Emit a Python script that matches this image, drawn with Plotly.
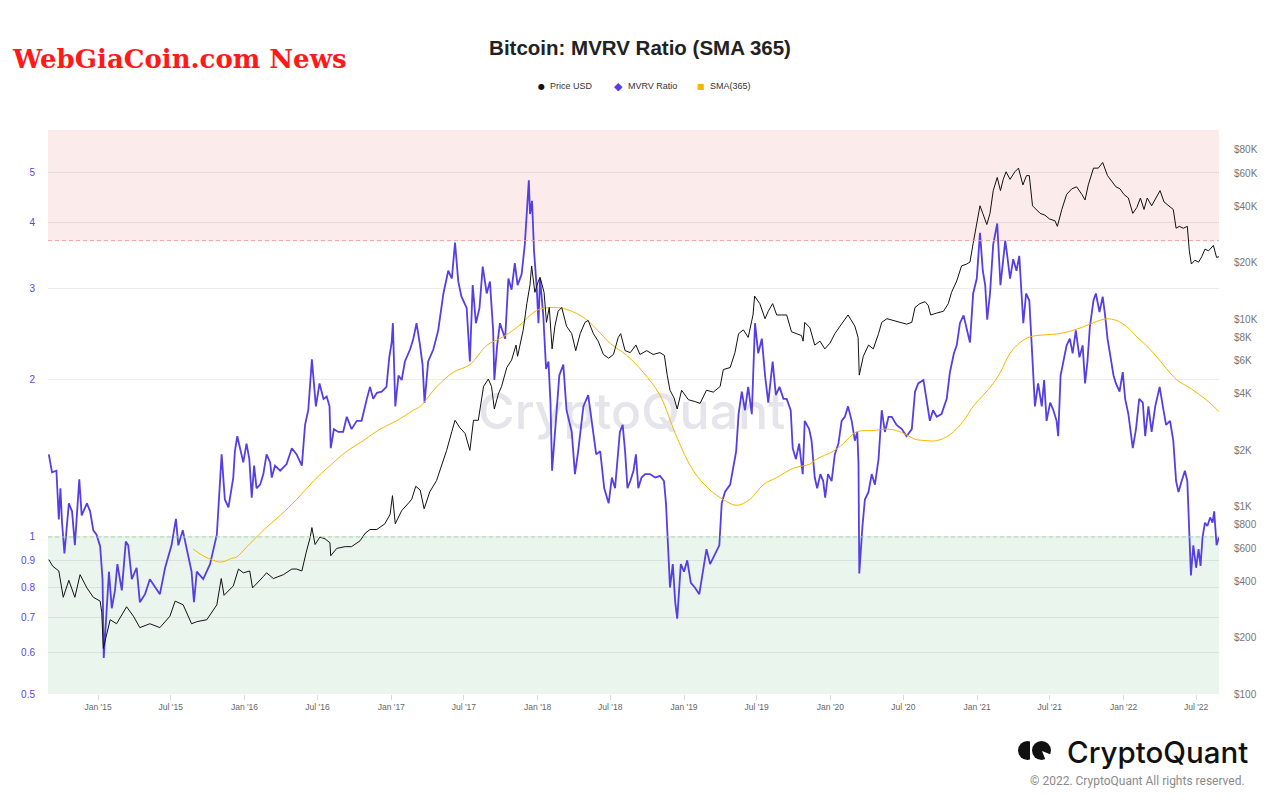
import base64
import numpy as np
import plotly.graph_objects as go

# ── data ──
mvrv_dates = [
    "2014-08-31", "2014-09-08", "2014-09-19", "2014-09-25", "2014-09-29", "2014-10-03", "2014-10-09",
    "2014-10-20", "2014-10-28", "2014-11-04", "2014-11-15", "2014-11-21", "2014-12-04", "2014-12-12",
    "2014-12-20", "2014-12-28", "2015-01-06", "2015-01-10", "2015-01-12", "2015-01-15", "2015-01-21",
    "2015-01-28", "2015-02-04", "2015-02-12", "2015-02-18", "2015-03-01", "2015-03-11", "2015-03-17",
    "2015-03-26", "2015-04-07", "2015-04-15", "2015-04-28", "2015-05-10", "2015-05-23", "2015-06-04",
    "2015-06-17", "2015-07-03", "2015-07-14", "2015-07-20", "2015-07-31", "2015-08-14", "2015-08-22",
    "2015-08-28", "2015-09-04", "2015-09-20", "2015-10-07", "2015-10-24", "2015-11-05", "2015-11-13",
    "2015-11-22", "2015-12-04", "2015-12-08", "2015-12-14", "2015-12-21", "2015-12-29", "2016-01-06",
    "2016-01-13", "2016-01-19", "2016-01-25", "2016-01-31", "2016-02-09", "2016-02-17", "2016-02-25",
    "2016-03-05", "2016-03-09", "2016-03-17", "2016-03-30", "2016-04-15", "2016-04-28", "2016-05-10",
    "2016-05-23", "2016-05-31", "2016-06-08", "2016-06-17", "2016-06-22", "2016-06-27", "2016-07-06",
    "2016-07-16", "2016-07-24", "2016-07-31", "2016-08-03", "2016-08-11", "2016-08-22", "2016-09-03",
    "2016-09-12", "2016-09-24", "2016-10-07", "2016-10-19", "2016-11-01", "2016-11-09", "2016-11-17",
    "2016-11-26", "2016-12-08", "2016-12-20", "2016-12-27", "2017-01-02", "2017-01-05", "2017-01-11",
    "2017-01-19", "2017-01-27", "2017-02-04", "2017-02-17", "2017-02-25", "2017-03-05", "2017-03-13",
    "2017-03-20", "2017-03-25", "2017-04-03", "2017-04-16", "2017-04-28", "2017-05-11", "2017-05-23",
    "2017-06-01", "2017-06-09", "2017-06-17", "2017-06-25", "2017-07-08", "2017-07-16", "2017-07-23",
    "2017-07-31", "2017-08-09", "2017-08-17", "2017-08-27", "2017-09-04", "2017-09-12", "2017-09-15",
    "2017-09-22", "2017-09-29", "2017-10-12", "2017-10-20", "2017-10-28", "2017-11-05", "2017-11-12",
    "2017-11-22", "2017-11-30", "2017-12-10", "2017-12-13", "2017-12-18", "2017-12-23", "2017-12-30",
    "2018-01-03", "2018-01-07", "2018-01-15", "2018-01-22", "2018-01-28", "2018-02-02", "2018-02-06",
    "2018-02-15", "2018-02-24", "2018-03-06", "2018-03-14", "2018-03-27", "2018-04-04", "2018-04-12",
    "2018-04-25", "2018-05-07", "2018-05-16", "2018-05-27", "2018-06-06", "2018-06-16", "2018-06-27",
    "2018-07-05", "2018-07-13", "2018-07-21", "2018-07-25", "2018-08-01", "2018-08-07", "2018-08-13",
    "2018-08-20", "2018-08-28", "2018-09-03", "2018-09-09", "2018-09-17", "2018-09-26", "2018-10-08",
    "2018-10-21", "2018-11-02", "2018-11-12", "2018-11-17", "2018-11-23", "2018-11-27", "2018-12-04",
    "2018-12-10", "2018-12-15", "2018-12-24", "2019-01-01", "2019-01-09", "2019-01-18", "2019-01-28",
    "2019-02-08", "2019-02-16", "2019-02-26", "2019-03-07", "2019-03-19", "2019-03-30", "2019-04-05",
    "2019-04-13", "2019-04-26", "2019-05-04", "2019-05-11", "2019-05-17", "2019-05-25", "2019-06-02",
    "2019-06-10", "2019-06-19", "2019-06-27", "2019-07-05", "2019-07-14", "2019-07-22", "2019-07-30",
    "2019-08-10", "2019-08-18", "2019-08-27", "2019-09-06", "2019-09-14", "2019-09-24", "2019-09-29",
    "2019-10-07", "2019-10-15", "2019-10-24", "2019-10-29", "2019-11-09", "2019-11-15", "2019-11-23",
    "2019-11-29", "2019-12-07", "2019-12-14", "2019-12-19", "2019-12-26", "2020-01-04", "2020-01-12",
    "2020-01-21", "2020-01-29", "2020-02-06", "2020-02-14", "2020-02-23", "2020-03-02", "2020-03-08",
    "2020-03-11", "2020-03-13", "2020-03-21", "2020-03-27", "2020-04-05", "2020-04-13", "2020-04-21",
    "2020-04-30", "2020-05-08", "2020-05-16", "2020-05-25", "2020-06-02", "2020-06-14", "2020-06-27",
    "2020-07-09", "2020-07-22", "2020-07-30", "2020-08-07", "2020-08-20", "2020-08-28", "2020-09-05",
    "2020-09-13", "2020-09-22", "2020-10-04", "2020-10-17", "2020-10-25", "2020-11-04", "2020-11-11",
    "2020-11-19", "2020-11-28", "2020-12-06", "2020-12-14", "2020-12-22", "2020-12-31", "2021-01-08",
    "2021-01-15", "2021-01-21", "2021-01-26", "2021-02-02", "2021-02-10", "2021-02-20", "2021-02-28",
    "2021-03-06", "2021-03-12", "2021-03-17", "2021-03-24", "2021-04-01", "2021-04-09", "2021-04-16",
    "2021-04-22", "2021-04-26", "2021-05-03", "2021-05-11", "2021-05-17", "2021-05-21", "2021-05-25",
    "2021-06-02", "2021-06-11", "2021-06-17", "2021-06-23", "2021-07-02", "2021-07-10", "2021-07-18",
    "2021-07-22", "2021-07-28", "2021-08-04", "2021-08-12", "2021-08-20", "2021-08-27", "2021-09-04",
    "2021-09-13", "2021-09-21", "2021-09-27", "2021-10-03", "2021-10-09", "2021-10-18", "2021-10-24",
    "2021-11-02", "2021-11-10", "2021-11-16", "2021-11-22", "2021-11-28", "2021-12-07", "2021-12-13",
    "2021-12-22", "2021-12-30", "2022-01-05", "2022-01-13", "2022-01-24", "2022-02-01", "2022-02-09",
    "2022-02-18", "2022-02-24", "2022-03-04", "2022-03-12", "2022-03-21", "2022-04-01", "2022-04-09",
    "2022-04-17", "2022-04-27", "2022-05-05", "2022-05-12", "2022-05-18", "2022-05-26", "2022-06-03",
    "2022-06-09", "2022-06-14", "2022-06-18", "2022-06-24", "2022-07-01", "2022-07-07", "2022-07-12",
    "2022-07-17", "2022-07-23", "2022-07-29", "2022-08-05", "2022-08-11", "2022-08-15", "2022-08-21",
    "2022-08-27",
]
mvrv = [
    1.44, 1.33, 1.34, 1.08, 1.24, 1.065, 0.93,
    1.16, 1.12, 0.964, 1.29, 1.10, 1.16, 1.12,
    1.03, 1.01, 0.96, 0.887, 0.83, 0.586, 0.69,
    0.858, 0.73, 0.79, 0.887, 0.79, 0.98, 0.964,
    0.83, 0.873, 0.75, 0.777, 0.83, 0.80, 0.777,
    0.873, 0.964, 1.083, 0.964, 1.03, 0.917, 0.858,
    0.75, 0.858, 0.83, 0.887, 1.01, 1.44, 1.18,
    1.14, 1.30, 1.46, 1.56, 1.48, 1.39, 1.51,
    1.41, 1.19, 1.37, 1.24, 1.26, 1.32, 1.44,
    1.39, 1.30, 1.37, 1.34, 1.38, 1.48, 1.44,
    1.37, 1.64, 1.75, 2.19, 1.97, 1.78, 1.97,
    1.84, 1.86, 1.78, 1.48, 1.61, 1.59, 1.59,
    1.70, 1.61, 1.67, 1.67, 1.84, 1.94, 1.84,
    1.89, 1.90, 1.94, 2.21, 2.36, 2.57, 1.78,
    2.04, 2.00, 2.17, 2.29, 2.40, 2.57, 2.35,
    2.14, 1.81, 2.17, 2.29, 2.49, 2.93, 3.24,
    3.13, 3.67, 3.09, 2.89, 2.75, 2.17, 3.04,
    2.57, 2.75, 3.30, 2.93, 3.09, 2.49, 2.00,
    2.33, 2.57, 2.40, 3.13, 2.98, 3.35, 3.04,
    3.19, 3.64, 4.83, 4.16, 4.41, 3.53, 2.98,
    2.57, 3.13, 2.66, 2.10, 2.17, 1.81, 1.34,
    1.67, 2.04, 2.14, 1.75, 1.59, 1.32, 1.46,
    1.78, 1.87, 1.67, 1.44, 1.46, 1.24, 1.16,
    1.30, 1.24, 1.48, 1.59, 1.64, 1.46, 1.24,
    1.28, 1.34, 1.44, 1.24, 1.30, 1.32, 1.32,
    1.30, 1.31, 1.28, 1.16, 0.93, 0.80, 0.887,
    0.75, 0.697, 0.887, 0.858, 0.902, 0.817, 0.80,
    0.777, 0.844, 0.948, 0.887, 0.93, 0.964, 1.16,
    1.22, 1.26, 1.37, 1.46, 1.72, 1.90, 1.75,
    1.94, 1.72, 2.57, 2.25, 2.40, 2.04, 1.81,
    2.17, 1.87, 1.94, 1.84, 1.84, 1.75, 1.48,
    1.41, 1.51, 1.32, 1.67, 1.61, 1.53, 1.30,
    1.24, 1.32, 1.28, 1.19, 1.32, 1.28, 1.44,
    1.51, 1.67, 1.70, 1.78, 1.67, 1.53, 1.59,
    1.39, 0.851, 1.05, 1.18, 1.22, 1.32, 1.26,
    1.41, 1.75, 1.59, 1.70, 1.70, 1.64, 1.61,
    1.56, 1.61, 1.90, 1.97, 2.00, 1.84, 1.67,
    1.75, 1.70, 1.72, 1.84, 2.07, 2.25, 2.33,
    2.57, 2.66, 2.49, 2.36, 2.93, 3.13, 3.83,
    3.24, 3.04, 2.61, 2.93, 3.64, 3.99, 3.04,
    3.35, 3.70, 3.46, 3.13, 3.41, 3.24, 3.46,
    2.93, 2.57, 2.93, 2.84, 2.33, 2.00, 1.78,
    1.97, 1.78, 2.00, 1.67, 1.81, 1.75, 1.67,
    1.56, 2.04, 2.17, 2.33, 2.40, 2.25, 2.49,
    2.21, 2.33, 1.97, 2.17, 2.53, 2.84, 2.93,
    2.70, 2.89, 2.66, 2.40, 2.25, 2.04, 1.97,
    1.90, 2.07, 1.84, 1.72, 1.48, 1.61, 1.84,
    1.81, 1.56, 1.78, 1.59, 1.78, 1.94, 1.78,
    1.64, 1.67, 1.53, 1.28, 1.22, 1.28, 1.34,
    1.28, 0.964, 0.844, 0.964, 0.873, 0.948, 0.88,
    1.00, 1.065, 1.05, 1.09, 1.065, 1.12, 0.964,
    1.00,
]

price_dates = [
    "2014-08-31", "2014-09-10", "2014-09-25", "2014-10-06", "2014-10-20", "2014-11-04", "2014-11-17",
    "2014-12-04", "2014-12-20", "2015-01-06", "2015-01-10", "2015-01-14", "2015-01-31", "2015-02-16",
    "2015-03-13", "2015-03-30", "2015-04-15", "2015-05-10", "2015-06-04", "2015-06-29", "2015-07-12",
    "2015-08-01", "2015-08-22", "2015-09-04", "2015-09-29", "2015-10-24", "2015-11-04", "2015-11-11",
    "2015-12-04", "2015-12-17", "2015-12-29", "2016-01-14", "2016-01-21", "2016-01-31", "2016-02-17",
    "2016-02-25", "2016-03-13", "2016-04-07", "2016-04-28", "2016-05-10", "2016-05-23", "2016-06-03",
    "2016-06-13", "2016-06-17", "2016-06-25", "2016-07-07", "2016-07-20", "2016-08-01", "2016-08-03",
    "2016-08-18", "2016-09-08", "2016-09-24", "2016-10-15", "2016-10-28", "2016-11-09", "2016-11-26",
    "2016-12-16", "2016-12-29", "2017-01-04", "2017-01-11", "2017-01-27", "2017-02-13", "2017-02-21",
    "2017-03-03", "2017-03-14", "2017-03-24", "2017-04-07", "2017-04-24", "2017-05-07", "2017-05-19",
    "2017-06-01", "2017-06-09", "2017-06-21", "2017-07-04", "2017-07-16", "2017-07-25", "2017-08-06",
    "2017-08-19", "2017-08-31", "2017-09-08", "2017-09-15", "2017-09-25", "2017-10-03", "2017-10-16",
    "2017-10-28", "2017-11-08", "2017-11-12", "2017-11-26", "2017-12-05", "2017-12-13", "2017-12-17",
    "2017-12-25", "2018-01-03", "2018-01-07", "2018-01-17", "2018-01-23", "2018-01-30", "2018-02-06",
    "2018-02-13", "2018-02-21", "2018-03-02", "2018-03-14", "2018-03-27", "2018-04-06", "2018-04-17",
    "2018-04-29", "2018-05-07", "2018-05-20", "2018-06-01", "2018-06-14", "2018-06-27", "2018-07-09",
    "2018-07-21", "2018-07-27", "2018-08-07", "2018-08-20", "2018-09-03", "2018-09-13", "2018-09-30",
    "2018-10-16", "2018-11-02", "2018-11-13", "2018-11-20", "2018-11-27", "2018-12-07", "2018-12-15",
    "2018-12-26", "2019-01-12", "2019-01-28", "2019-02-10", "2019-02-26", "2019-03-15", "2019-04-01",
    "2019-04-09", "2019-04-26", "2019-05-08", "2019-05-17", "2019-05-29", "2019-06-10", "2019-06-22",
    "2019-06-26", "2019-07-09", "2019-07-22", "2019-07-30", "2019-08-10", "2019-08-20", "2019-09-01",
    "2019-09-14", "2019-09-26", "2019-10-09", "2019-10-21", "2019-10-25", "2019-10-29", "2019-11-11",
    "2019-11-23", "2019-12-06", "2019-12-18", "2019-12-31", "2020-01-12", "2020-01-25", "2020-02-06",
    "2020-02-14", "2020-03-02", "2020-03-10", "2020-03-13", "2020-03-23", "2020-04-05", "2020-04-17",
    "2020-04-30", "2020-05-08", "2020-05-21", "2020-06-06", "2020-06-23", "2020-07-09", "2020-07-22",
    "2020-07-30", "2020-08-11", "2020-08-24", "2020-09-01", "2020-09-07", "2020-09-22", "2020-10-09",
    "2020-10-21", "2020-10-29", "2020-11-11", "2020-11-23", "2020-12-06", "2020-12-14", "2020-12-22",
    "2020-12-31", "2021-01-08", "2021-01-15", "2021-01-25", "2021-02-02", "2021-02-10", "2021-02-20",
    "2021-02-28", "2021-03-07", "2021-03-14", "2021-03-24", "2021-04-05", "2021-04-14", "2021-04-25",
    "2021-05-04", "2021-05-11", "2021-05-19", "2021-05-29", "2021-06-07", "2021-06-19", "2021-06-30",
    "2021-07-14", "2021-07-20", "2021-07-31", "2021-08-12", "2021-08-25", "2021-09-06", "2021-09-19",
    "2021-09-27", "2021-10-05", "2021-10-18", "2021-10-30", "2021-11-10", "2021-11-22", "2021-12-02",
    "2021-12-13", "2021-12-23", "2022-01-02", "2022-01-13", "2022-01-24", "2022-02-03", "2022-02-12",
    "2022-02-21", "2022-03-01", "2022-03-12", "2022-03-23", "2022-04-02", "2022-04-12", "2022-04-25",
    "2022-05-05", "2022-05-12", "2022-05-20", "2022-05-30", "2022-06-09", "2022-06-14", "2022-06-19",
    "2022-06-28", "2022-07-07", "2022-07-15", "2022-07-23", "2022-08-01", "2022-08-13", "2022-08-21",
    "2022-08-27",
]
price_usd = [
    521, 480, 453, 328, 404, 328, 433,
    368, 328, 313, 273, 175, 249, 237,
    292, 260, 226, 237, 226, 260, 313,
    299, 237, 243, 249, 299, 413, 336,
    377, 464, 443, 453, 368, 386, 423,
    443, 413, 433, 464, 464, 453, 571,
    687, 772, 627, 687, 672, 641, 546,
    598, 611, 611, 656, 720, 754, 754,
    809, 908, 1143, 809, 951, 1043, 1093,
    1282, 1225, 972, 1197, 1377, 1656, 1991,
    2511, 2884, 2630, 2455, 1991, 2884, 2884,
    4365, 4786, 4365, 3311, 3981, 4365, 5508,
    6039, 7261, 6324, 8750, 12080, 15240, 19190,
    13870, 15950, 16710, 13870, 9600, 11530, 6930,
    9160, 11000, 11530, 9160, 8350, 6780, 8350,
    9600, 9830, 8350, 7620, 6470, 6180, 6470,
    7980, 8350, 6780, 6620, 7260, 6470, 6780,
    6470, 6620, 6400, 5020, 4170, 3800, 3311,
    4170, 3710, 3630, 3550, 4170, 4075, 4365,
    5380, 5508, 6620, 8350, 8750, 7980, 10510,
    13250, 12080, 10040, 11000, 12080, 10510, 10510,
    10510, 8550, 8350, 8160, 7620, 9600, 8970,
    7260, 7620, 6930, 7440, 8350, 9160, 10040,
    10510, 9160, 7980, 5020, 6324, 7260, 6930,
    8350, 9600, 10040, 9830, 9600, 9390, 9600,
    11530, 12080, 12370, 11800, 10510, 10760, 11000,
    12080, 13870, 15950, 19190, 19650, 20120, 25350,
    31920, 40180, 36600, 31920, 36600, 48400, 56900,
    48400, 55600, 61000, 55600, 61000, 63800, 51900,
    58200, 58200, 40180, 38400, 36600, 35800, 34200,
    33400, 31200, 38400, 46200, 49500, 50700, 46200,
    43150, 51900, 63800, 63800, 68400, 58200, 54300,
    50700, 49500, 46200, 44200, 36600, 39300, 44200,
    38400, 44200, 40180, 44200, 48400, 42100, 40180,
    38400, 30500, 31200, 30500, 31200, 23100, 19650,
    20600, 20100, 21500, 23600, 23100, 24700, 21300,
    21500,
]

sma_dates = [
    "2015-08-26", "2015-09-20", "2015-10-15", "2015-11-05", "2015-11-30", "2015-12-12", "2016-01-06",
    "2016-02-17", "2016-03-30", "2016-05-10", "2016-06-21", "2016-08-01", "2016-09-12", "2016-10-23",
    "2016-12-04", "2017-01-14", "2017-02-25", "2017-03-14", "2017-04-24", "2017-06-05", "2017-07-16",
    "2017-08-27", "2017-10-07", "2017-11-18", "2017-12-13", "2017-12-30", "2018-01-23", "2018-02-26",
    "2018-03-31", "2018-05-03", "2018-06-06", "2018-07-01", "2018-08-11", "2018-09-21", "2018-11-02",
    "2018-12-13", "2019-01-24", "2019-03-07", "2019-04-09", "2019-05-12", "2019-06-14", "2019-07-18",
    "2019-08-20", "2019-10-01", "2019-11-11", "2019-11-27", "2020-01-08", "2020-02-02", "2020-03-06",
    "2020-04-17", "2020-05-21", "2020-06-14", "2020-07-09", "2020-07-30", "2020-08-28", "2020-09-22",
    "2020-10-25", "2020-11-28", "2020-12-22", "2021-01-16", "2021-02-10", "2021-02-28", "2021-03-24",
    "2021-04-18", "2021-05-13", "2021-06-15", "2021-07-18", "2021-08-20", "2021-09-23", "2021-10-26",
    "2021-11-20", "2021-12-15", "2022-01-09", "2022-02-03", "2022-03-08", "2022-04-10", "2022-05-14",
    "2022-06-16", "2022-07-27", "2022-08-27",
]
sma_365 = [
    0.948, 0.92, 0.902, 0.895, 0.91, 0.915, 0.956,
    1.03, 1.10, 1.18, 1.28, 1.37, 1.46, 1.53,
    1.61, 1.67, 1.75, 1.78, 1.94, 2.07, 2.14,
    2.33, 2.42, 2.55, 2.66, 2.72, 2.75, 2.75,
    2.70, 2.61, 2.46, 2.35, 2.23, 2.07, 1.87,
    1.56, 1.34, 1.23, 1.18, 1.15, 1.18, 1.26,
    1.30, 1.355, 1.38, 1.41, 1.46, 1.51, 1.59,
    1.60, 1.61, 1.60, 1.57, 1.54, 1.53, 1.53,
    1.57, 1.67, 1.78, 1.87, 1.97, 2.07, 2.25,
    2.36, 2.42, 2.44, 2.45, 2.48, 2.53, 2.59,
    2.62, 2.60, 2.53, 2.42, 2.29, 2.14, 2.00,
    1.93, 1.83, 1.74,
]

# ── axes ──
x_range = ["2014-08-29", "2022-08-27"]
mvrv_min, mvrv_max = 0.5, 6.03
price_min, price_max = 100, 101900
overheat_level = 3.7
undervalued_level = 1.0

mvrv_ticks = [0.5, 0.6, 0.7, 0.8, 0.9, 1, 2, 3, 4, 5]
mvrv_tick_text = ["0.5", "0.6", "0.7", "0.8", "0.9", "1", "2", "3", "4", "5"]
price_ticks = [100, 200, 400, 600, 800, 1000, 2000, 4000, 6000, 8000,
               10000, 20000, 40000, 60000, 80000]
price_tick_text = ["$100", "$200", "$400", "$600", "$800", "$1K", "$2K", "$4K", "$6K", "$8K",
                   "$10K", "$20K", "$40K", "$60K", "$80K"]

MVRV_COLOR = "#553ee6"
PRICE_COLOR = "#111111"
SMA_COLOR = "#f5b800"

# plot area in pixels, used for decorations outside it
L, R, T, B = 48, 1219, 130, 694


def px_x(px):
    return (px - L) / (R - L)


def px_y(py):
    return (B - py) / (B - T)


fig = go.Figure()

fig.add_trace(go.Scatter(
    x=mvrv_dates, y=mvrv, mode="lines", name="MVRV Ratio",
    line=dict(color=MVRV_COLOR, width=1.8), yaxis="y",
))
fig.add_trace(go.Scatter(
    x=sma_dates, y=sma_365, mode="lines", name="SMA(365)",
    line=dict(color=SMA_COLOR, width=1, shape="spline"), yaxis="y",
))
fig.add_trace(go.Scatter(
    x=price_dates, y=price_usd, mode="lines", name="Price USD",
    line=dict(color=PRICE_COLOR, width=1), yaxis="y2",
))

# zones
fig.add_shape(type="rect", xref="paper", yref="y", x0=0, x1=1,
              y0=overheat_level, y1=mvrv_max, fillcolor="#fbebea",
              line=dict(width=0), layer="below")
fig.add_shape(type="rect", xref="paper", yref="y", x0=0, x1=1,
              y0=mvrv_min, y1=undervalued_level, fillcolor="#eaf5ed",
              line=dict(width=0), layer="below")
fig.add_shape(type="line", xref="paper", yref="y", x0=0, x1=1,
              y0=overheat_level, y1=overheat_level,
              line=dict(color="#eea0a0", width=1, dash="4px,3px"))
fig.add_shape(type="line", xref="paper", yref="y", x0=0, x1=1,
              y0=undervalued_level, y1=undervalued_level,
              line=dict(color="#a3d6a6", width=1, dash="4px,3px"))

# CryptoQuant logo mark
fig.add_shape(type="circle", xref="paper", yref="paper",
              x0=px_x(1018), x1=px_x(1037), y0=px_y(760), y1=px_y(741),
              fillcolor="#111", line=dict(width=0))
fig.add_shape(type="rect", xref="paper", yref="paper",
              x0=px_x(1030), x1=px_x(1038), y0=px_y(761), y1=px_y(740),
              fillcolor="white", line=dict(width=0))
fig.add_shape(type="circle", xref="paper", yref="paper",
              x0=px_x(1032), x1=px_x(1051), y0=px_y(760), y1=px_y(741),
              fillcolor="#111", line=dict(width=0))
fig.add_shape(type="path", xref="paper", yref="paper",
              path=(f"M {px_x(1042)},{px_y(751)} L {px_x(1052)},{px_y(755)} "
                    f"L {px_x(1052)},{px_y(761)} L {px_x(1046)},{px_y(761)} Z"),
              fillcolor="white", line=dict(width=0))

# faint watermark behind the lines
wm_svg = ('<svg xmlns="http://www.w3.org/2000/svg" width="310" height="60" viewBox="0 0 310 60">'
          '<text x="0" y="47" font-family="Inter, sans-serif" font-size="50" font-weight="500" '
          'fill="#e4e4ea">CryptoQuant</text></svg>')
fig.add_layout_image(
    source="data:image/svg+xml;base64," + base64.b64encode(wm_svg.encode()).decode(),
    xref="paper", yref="paper", x=px_x(478), y=px_y(382),
    sizex=310 / (R - L), sizey=60 / (B - T), xanchor="left", yanchor="top",
    sizing="stretch", layer="below",
)

# legend built from text so the spacing matches
legend_items = [
    (541, "●", PRICE_COLOR, 8, 548, "Price USD"),
    (618, "◆", MVRV_COLOR, 11, 626, "MVRV Ratio"),
    (701, "■", SMA_COLOR, 8, 708, "SMA(365)"),
]
for sx, sym, col, ssize, tx, label in legend_items:
    fig.add_annotation(x=px_x(sx), y=px_y(86), xref="paper", yref="paper", text=sym,
                       showarrow=False, xanchor="center", yanchor="middle",
                       font=dict(size=ssize, color=col, family="DejaVu Sans"))
    fig.add_annotation(x=px_x(tx), y=px_y(86), xref="paper", yref="paper", text=label,
                       showarrow=False, xanchor="left", yanchor="middle",
                       font=dict(size=9, color="#333", family="Liberation Sans, Arial"))

fig.add_annotation(x=px_x(10), y=px_y(59), xref="paper", yref="paper",
                   text="WebGiaCoin.com News", showarrow=False,
                   xanchor="left", yanchor="middle",
                   font=dict(size=26, color="#ff1a1a", weight="bold",
                             family="DejaVu Serif, serif"))
fig.add_annotation(x=px_x(1065), y=px_y(752), xref="paper", yref="paper",
                   text="CryptoQuant", showarrow=False,
                   xanchor="left", yanchor="middle",
                   font=dict(size=29.5, color="#111", weight=500, family="Inter, sans-serif"))
fig.add_annotation(x=px_x(1247), y=px_y(781), xref="paper", yref="paper",
                   text="© 2022. CryptoQuant All rights reserved.", showarrow=False,
                   xanchor="right", yanchor="middle",
                   font=dict(size=12, color="#8a8a8a", family="Roboto, sans-serif"))

fig.update_layout(
    width=1280,
    height=806,
    paper_bgcolor="white",
    plot_bgcolor="rgba(0,0,0,0)",
    margin=dict(l=L, r=1280 - R, t=T, b=806 - B),
    showlegend=False,
    font=dict(family="Liberation Sans, Arial, sans-serif", color="#666"),
    title=dict(text="<b>Bitcoin: MVRV Ratio (SMA 365)</b>", x=0.5, xanchor="center",
               y=1 - 48 / 806, yanchor="middle",
               font=dict(size=20.5, color="#222", family="Liberation Sans, Arial, sans-serif")),
    xaxis=dict(
        type="date", range=x_range, tickformat="%b '%y", dtick="M6", tick0="2015-01-01",
        ticks="outside", ticklen=5, tickcolor="#d8d8e0", showgrid=False,
        showline=False, zeroline=False,
        tickfont=dict(size=8.5, color="#666"),
    ),
    yaxis=dict(
        type="log", range=[np.log10(mvrv_min), np.log10(mvrv_max)],
        tickvals=mvrv_ticks, ticktext=mvrv_tick_text,
        gridcolor="rgba(0,0,0,0.075)", zeroline=False, showline=False,
        tickfont=dict(size=10, color="#5b46e0"), ticklabelstandoff=12,
    ),
    yaxis2=dict(
        type="log", overlaying="y", side="right",
        range=[np.log10(price_min), np.log10(price_max)],
        tickvals=price_ticks, ticktext=price_tick_text,
        showgrid=False, zeroline=False, showline=False,
        tickfont=dict(size=10, color="#777"), ticklabelstandoff=14,
    ),
)

# the page is photographed at 1280x806, so drop the default body margin
fig.write_html("out.html", config={"displayModeBar": False},
               post_script="document.body.style.margin='0';")
